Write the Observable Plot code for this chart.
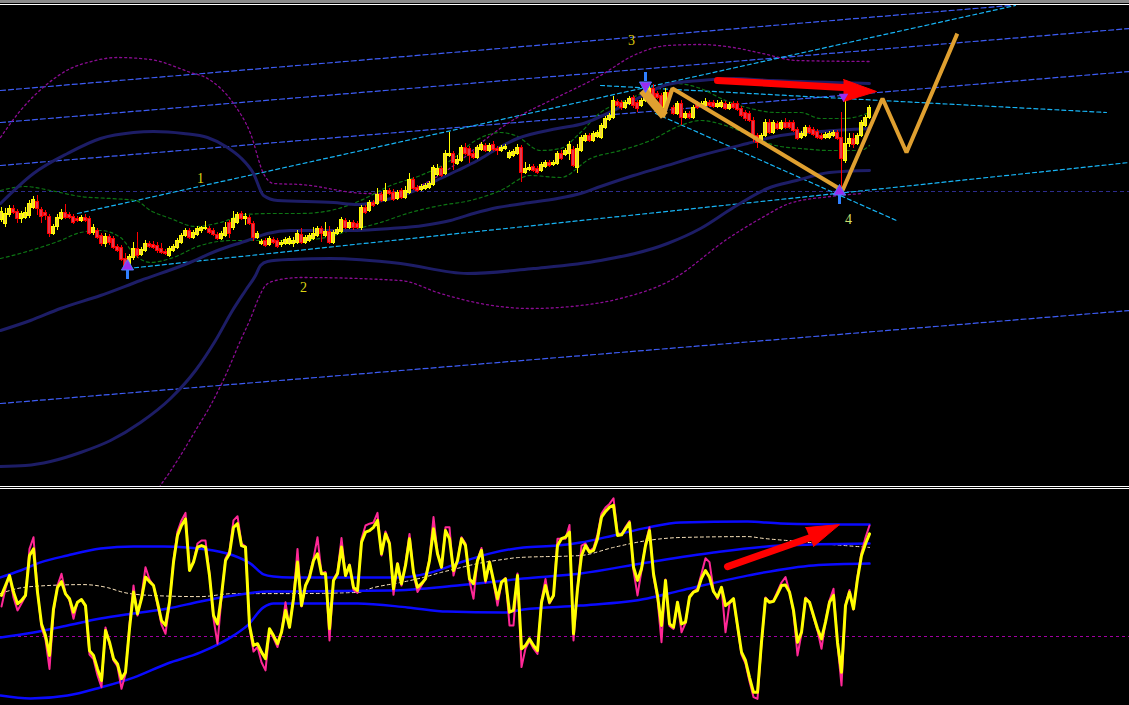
<!DOCTYPE html>
<html>
<head>
<meta charset="utf-8">
<script src="https://cdn.jsdelivr.net/npm/d3@7"></script>
<script src="https://cdn.jsdelivr.net/npm/@observablehq/plot@0.6"></script>
<style>
  html, body { margin: 0; padding: 0; background: #000; }
  #page { width: 1129px; height: 705px; overflow: hidden; background: #000; }
  #price, #osc { width: 1129px; overflow: hidden; }
  svg { display: block; }
</style>
</head>
<body>
<div id="page">
  <div style="height:3px;background:#8a8a8a"></div>
  <div style="height:1px"></div>
  <div style="height:1px;background:#fff"></div>
  <div id="price" style="height:481px"></div>
  <div style="height:1px;background:#fff"></div>
  <div style="height:1px"></div>
  <div style="height:1px;background:#fff"></div>
  <div style="height:1px"></div>
  <div id="osc" style="height:215px"></div>
</div>
<script>
// ---------- price bars (OHLC, one entry per bar) ----------
const open = [
  266,262,271,277,274,267,268,270,278,284,
  276,273,269,252,259,267,273,271,269,267,
  265,268,267,253,255,250,242,249,247,239,
  238,227,220,228,237,231,235,242,241,240,
  237,234,230,235,238,243,250,255,248,251,
  255,257,257,255,251,247,250,263,258,263,
  272,267,268,262,248,242,245,241,246,245,
  241,242,242,242,243,251,243,245,247,250,
  257,250,254,243,252,254,265,258,263,262,
  258,278,275,283,282,291,285,295,293,287,
  295,288,293,306,298,296,297,298,301,311,
  317,312,330,332,322,325,338,337,332,328,
  336,340,335,341,337,335,337,328,330,332,
  338,313,316,319,317,315,319,323,321,322,
  332,331,332,336,318,335,345,350,345,349,
  348,358,366,368,384,383,378,382,388,383,
  380,385,388,397,392,390,378,393,378,372,
  382,368,372,368,382,379,380,383,383,379,
  379,382,377,382,382,377,373,372,365,350,
  343,350,363,353,362,357,363,363,363,356,
  348,350,358,356,354,350,348,348,350,353,
  348,325,342,347,342,350,360,368
];
const high = [
  278,277,280,280,276,274,278,285,289,290,
  278,275,271,261,271,276,281,273,271,269,
  270,271,269,261,257,252,252,251,249,241,
  240,232,231,243,253,238,245,244,244,243,
  242,236,239,241,247,252,257,257,255,259,
  259,264,259,257,253,254,263,265,274,273,
  274,272,270,264,254,246,247,249,248,247,
  245,248,249,248,255,257,250,252,258,259,
  259,263,259,255,258,268,267,265,265,264,
  280,280,285,285,297,293,302,297,296,295,
  297,299,312,308,300,301,302,304,320,321,
  319,335,353,334,330,340,342,339,334,340,
  343,342,342,344,339,340,341,335,336,341,
  340,323,321,321,319,323,325,325,325,334,
  335,337,344,339,341,350,352,352,354,355,
  362,369,372,389,386,385,385,389,390,385,
  387,394,399,401,394,392,397,395,380,384,
  385,374,374,380,384,384,387,385,385,385,
  385,384,383,384,384,379,375,374,368,352,
  352,366,366,365,364,365,367,365,365,358,
  354,360,360,358,356,352,353,354,355,355,
  373,386,352,352,352,365,370,380
];
const low = [
  263,258,268,271,262,262,266,267,276,270,
  262,265,248,250,255,265,266,266,261,263,
  263,263,250,250,246,239,238,240,236,233,
  224,218,217,225,227,229,233,237,236,232,
  231,230,228,233,236,241,248,246,246,249,
  252,255,251,249,245,245,248,247,255,261,
  265,260,260,244,246,240,238,239,241,237,
  238,240,240,238,241,241,241,243,245,248,
  243,248,241,241,250,252,256,256,255,256,
  255,271,273,278,280,283,283,290,284,285,
  286,286,291,295,293,294,295,296,299,309,
  308,310,328,315,320,323,330,322,326,326,
  334,333,333,334,330,333,335,326,328,330,
  303,311,314,313,311,313,317,318,319,320,
  325,329,325,318,312,333,343,343,343,347,
  346,356,364,366,378,375,376,380,377,373,
  378,383,386,386,386,370,376,386,370,370,
  360,366,366,366,376,377,378,378,377,377,
  377,375,375,376,374,368,364,363,343,337,
  341,348,351,351,355,355,356,356,353,345,
  346,348,351,349,346,345,346,346,348,345,
  293,322,338,337,340,348,358,366
];
const close = [
  274,272,277,273,267,272,273,282,286,277,
  269,270,252,259,268,273,268,268,263,265,
  268,265,252,258,248,242,249,243,238,235,
  226,220,229,237,230,236,242,239,238,235,
  233,232,237,239,245,250,255,248,253,257,
  258,258,253,251,247,252,258,252,267,271,
  267,269,262,248,252,244,240,247,243,239,
  243,246,247,245,252,243,248,250,252,257,
  252,254,243,253,256,266,258,263,258,258,
  278,273,283,280,291,285,295,292,286,293,
  288,295,306,297,295,299,300,302,318,317,
  310,332,332,323,326,338,332,330,328,338,
  341,335,340,336,335,338,339,333,334,338,
  313,317,318,315,313,321,323,320,323,332,
  327,335,341,320,337,348,350,345,352,353,
  360,367,370,385,380,378,383,387,380,377,
  385,390,397,388,388,372,393,388,372,382,
  368,372,368,378,378,382,384,380,379,382,
  383,377,381,378,376,370,367,365,348,343,
  350,363,353,363,357,363,358,358,355,347,
  352,358,353,351,348,347,351,352,353,347,
  327,342,347,341,350,363,368,378
];

// ---------- envelope bands on the price pane: [bar, price] knots ----------
const slowUpper = [[-0.25,282],[8,312],[16.5,332],[24.75,347],[33,353],[38,354],[45.5,352],[51.5,348],[56.5,338],[59.75,328],[63,312],[65.5,290],[69,285],[83,283],[89,281],[93,283],[101.5,292],[109.75,307],[114,315],[119,325],[124,337],[129,347],[139,357],[145.5,362],[153,375],[158,385],[166.5,401],[174.75,405],[183,407],[192.75,405],[217,402]];
const slowMiddle = [[-0.25,155],[7.25,165],[14.75,177],[24.75,190],[34.75,205],[46.5,222],[54,235],[61.5,245],[66.5,252],[72.25,255],[89,255],[97.25,257],[105.5,260],[112.25,265],[118,272],[124,278],[130.5,282],[139,287],[144.75,292],[149.75,299],[158,310],[164.75,318],[174.75,330],[186.5,342],[194.75,350],[204.75,354],[217,357]];
const slowLower = [[-0.25,19],[6,20],[12.25,24],[19.75,33],[27.25,45],[34.75,63],[42.25,87],[48.5,115],[53.5,145],[57.75,175],[61,195],[63.5,210],[64.75,220],[66.5,224],[72.25,226],[82.25,227],[99.75,222],[116.5,212],[133,217],[149.75,225],[166.5,242],[174.75,257],[183,278],[191.5,297],[198.75,305],[207,313],[217,315]];
const wideUpper = [[-0.25,348],[4.75,375],[11,400],[17.25,417],[21.5,423],[29,428],[37.25,426],[47.25,413],[51.5,407],[58,382],[62.25,352],[65.5,312],[68,302],[74.75,301],[91.5,292],[99.75,293],[107.25,305],[114.75,325],[122.25,350],[129.75,370],[137.25,385],[149.75,410],[158,430],[166.5,440],[174.75,441],[183,438],[190.25,432],[198.75,425],[217,424]];
const wideLower = [[37.25,-20],[39.75,0],[41.5,10],[44.75,30],[48.5,55],[52.25,80],[56,110],[59.75,145],[62.25,167],[64.25,187],[66,200],[68.5,205],[74.75,208],[99.75,205],[109.75,192],[119.75,182],[132.25,177],[144.75,180],[154.75,187],[167.25,205],[182,248],[189.75,267],[197,282],[207.25,289],[215.25,292]];
const fastUpper = [[-0.25,295],[6,299],[12.25,295],[19.75,289],[27.25,287],[33.5,285],[37.25,275],[42.25,267],[48.5,259],[54.75,263],[61,271],[67.25,272],[74.75,272],[82.25,275],[89.75,285],[97.25,300],[104.75,310],[112.25,325],[118.5,345],[124.75,353],[128.5,350],[134.75,335],[139.75,337],[144.75,353],[149.75,373],[156,385],[162.25,395],[168.5,402],[174.75,397],[181,385],[187.25,377],[193.5,373],[199.75,373],[204.75,367],[211,367],[217,373]];
const fastLower = [[-0.25,227],[7.25,235],[14.75,245],[19.75,253],[24.75,255],[29.75,248],[33.5,230],[37.25,223],[42.25,227],[49.75,240],[57.25,245],[64.75,245],[72.25,245],[79.75,247],[87.25,255],[94.75,263],[102.25,273],[109.75,280],[117.25,285],[124.75,295],[132.25,310],[139.75,308],[147.25,327],[154.75,335],[162.25,345],[169.75,360],[174.75,365],[181,360],[187.25,350],[193.5,340],[199.75,337],[207.25,335],[214.75,335],[217,340]];

// ---------- channel / trend lines: [bar, price] end points ----------
const channel1 = [[-0.25,395],[252.25,480]];
const channel2 = [[-0.25,363],[282,457]];
const channel3 = [[-0.25,320],[282,414]];
const channel4 = [[-0.25,82],[282,175]];
const pivotLevel = 294;
const trend1 = [[19,272],[253.5,480]];
const trend2 = [[31.5,217],[282,323]];
const trend3 = [[149.75,400],[276.25,373]];
const trend4 = [[163.5,372],[223.75,265]];

// ---------- wave count ----------
const waveTop = [[161,392],[165,373]];
const waveBars = [165.5, 167.75, 210.25, 220.25, 226.25, 238.75];
const wavePrices = [370, 397, 295, 387, 333, 450];
const waveLabels = ["1", "2", "3", "4"];
const labelBars = [49.75, 75.5, 157.5, 211.75];
const labelPrices = [307, 198, 445, 266];
const labelColors = ["#dcd414", "#dcd414", "#dcc80a", "#d2e070"];
const pivotBars = [31.5, 161, 209.5];
const pivotPrices = [218, 401, 293];
const pivotDir = [1, -1, 1];
const spikeBars = [210.5];
const spikePrices = [389];
const priceArrowShaft = [[179,405],[210.5,398]];
const priceArrowHead = [[210.5,406],[218.75,394],[210.5,384]];

// ---------- oscillator pane ----------
const oscMain = [
  63.7,67,70.3,64.8,60.9,62,63.7,77,79.2,64.8,
  54.2,50.3,43.7,59.2,66.4,68.3,64.2,62.6,58.1,61.4,
  62.3,60.3,45.3,43.7,39.2,35.3,52,48.1,42.6,40.9,
  35.9,38.1,52.6,64.8,57.6,62.6,69.8,68.3,67,61.4,
  55.3,53.7,61.4,74.8,83.7,87,89.2,72,74.8,79.8,
  80.3,79.8,70.3,57,54.2,63.7,75.3,77.6,86.4,87.6,
  80.3,79.8,53.7,47,47.6,44.8,42.6,52.6,50.3,47.6,
  51.4,58.7,53.1,62.6,74.8,60.3,67,69.8,75.3,77.6,
  70.9,70.9,52.6,68.7,70.9,79.8,70.3,73.7,66.4,65.3,
  81.4,84.8,85.3,86.4,88.7,77.6,84.2,80.9,65.9,74.2,
  67.6,73.7,82.6,71.4,66.4,67.6,69.2,75.3,85.9,77.6,
  73.1,85.3,82.6,72,75.3,82.6,80.3,69.2,67.6,75.3,
  78.7,68.7,74.8,68.7,62.6,68.1,69.2,58.1,58.7,70.3,
  45.9,47,49.2,47,45.3,61.4,67,61.4,63.7,80.3,
  82.6,83.1,84.8,50.9,65.9,77,80.3,78.1,78.7,82.6,
  89.8,91.7,93.1,93.7,83.7,83.9,85.9,87.9,73.1,68.7,
  72.6,80.3,85.3,70.9,63.7,53.7,68.7,54.2,53.1,61.4,
  54.2,54.8,63.1,64.8,65.3,69.4,72,69.8,65,63.1,
  66.4,60.3,61.4,62.6,53.7,44.8,42,36.4,31.4,31.4,
  48.1,62.6,61.4,61.7,64.2,67,67.2,64.8,58.7,48.1,
  51.4,62.6,61.4,57,52.6,49.2,54.8,61.4,63.7,48.1,
  38.1,60.3,64.8,59.2,69.2,77,80.9,84.2
];
const oscSignal = [
  60,66,70.5,63,58.7,61,63.5,79.2,83.1,65,
  53,49,39.2,58,67,70.9,64.5,62,55.9,61.5,
  62.3,60,44,42.5,37,33.1,53,47.5,42,40,
  32.6,37.5,54,67,57,63.5,73.1,69,67,60.5,
  54,50.9,61,75.5,85,88.7,91.2,72.5,75,81,
  82,82,71,56,47.6,63,76,78.5,88.7,90.1,
  81,80,53,45,46.5,41.4,38.7,52,49.5,46.5,
  51.5,61.4,53,63,79.2,60,67,70.5,76,83.1,
  71,71.5,48.7,69,71.5,82.8,70.5,74,65.5,64.5,
  82.5,87,87.6,88,91.2,77,85,81.5,63.9,74.5,
  67,74.5,84.2,71,64.8,67,69.5,76,89.8,78,
  73,86.4,86.4,70.3,75.5,83.1,81,68.5,62.6,75.5,
  79.5,68,75,68,60.3,68,69.5,53.7,53.7,71,
  39.8,46,48.5,46,44.2,62,69.2,61,63.5,82.6,
  82.6,82.6,87.2,48.7,66,80.3,81,78.5,79.5,84,
  91,93,94.2,96.1,84.5,84,86.5,88.5,72,63.7,
  72,81,86.4,70,62.5,48.1,69,53.5,52.5,61.5,
  51.4,54.5,63.5,65,66,71,76.1,74.8,65.5,62.5,
  66.5,51.4,61,62.5,53,44,41,35,29.8,29.2,
  47.5,63,61.5,62,65,68,69.8,65,58,43.7,
  51,63,61.5,56.5,52,45.9,55,62,65.9,47.5,
  33.7,60.5,65.5,59,70,78,83,87
];
const oscUpper = [[-0.25,69.7],[4.75,72],[9.75,74.7],[16.5,77],[24.75,79.3],[33,80],[40.5,80],[46.5,79.7],[53,78.7],[58,77],[62.25,74.3],[65.5,70.7],[68,70],[72.25,69.7],[99.75,69.7],[107.25,71.3],[114.75,74.7],[122.25,77.7],[130.5,79.7],[139,80.3],[144.75,81.3],[153,83.7],[161.5,86.3],[169.75,88],[186.5,88.3],[194.75,87.7],[217,87.3]];
const oscMiddle = [[-0.25,49.7],[8,51.3],[16.5,53.7],[24.75,56],[33,57.7],[41.5,59.3],[49.75,61.7],[58,63.7],[66.5,65],[72.25,65],[97.25,65.3],[114,67],[130.5,69.3],[144.75,71],[161.5,74.7],[178,78],[194.75,80.3],[217,81]];
const oscLower = [[-0.25,30.3],[7.25,29.3],[16.5,30.3],[24.75,33],[33,36.3],[41.5,41],[49.75,44.7],[58,50.3],[61.5,53.7],[65.5,59.7],[68,61],[72.25,61],[89,61],[101.5,59.7],[111.5,58.3],[125.5,58],[130.5,59],[144.75,60.3],[161.5,62.7],[169.75,65.3],[186.5,70.3],[203,73.7],[217,74.3]];
const oscBasis = [[-0.25,64.3],[4,66],[8,66.7],[20.5,67.3],[26.5,66.3],[30.5,64.7],[37.25,63.7],[49.75,63.3],[58,64.3],[72.25,64.3],[89,64.7],[93,66.3],[99.75,68],[105.5,69.7],[109.75,71.3],[114,72.7],[119,74.3],[125.5,75.7],[129,76.3],[144.75,77],[153,79.7],[161.5,82],[169.75,83],[186.5,83.3],[190.5,82.7],[199,81.7],[207.25,80.7],[217,79.7]];
const oscLevel = 50;
const oscArrowShaft = [[181.5,73.3],[202.25,83]];
const oscArrowHead = [[201,86.3],[209.5,87.3],[203,80]];

// ---------- drawing ----------
const bars = d3.range(close.length);
const candles = bars.map(i => ({i, o: open[i], h: high[i], l: low[i], c: close[i]}));
const rising = d => d.c >= d.o;
const falling = d => d.c < d.o;
const pivots = pivotBars.map((b, k) => ({bar: b, price: pivotPrices[k], dir: pivotDir[k]}));
const spikes = spikeBars.map((b, k) => ({bar: b, price: spikePrices[k]}));
const labels = waveLabels.map((t, k) => ({t, bar: labelBars[k], price: labelPrices[k], color: labelColors[k]}));
const wave = waveBars.map((b, k) => [b, wavePrices[k]]);

const path = (pts, o) => Plot.line(pts, {x: d => d[0], y: d => d[1], ...o});
const xScale = {domain: [-0.25, 282], axis: null};
const crisp = {shapeRendering: "crispEdges"};

const dashBlue = {stroke: "#3d5cf5", strokeWidth: 1.2, strokeDasharray: "5,3"};
const dashCyan = {stroke: "#17b4f5", strokeWidth: 1.2, strokeDasharray: "4,3"};
const dashPurple = {stroke: "#8a0c92", strokeWidth: 1.3, strokeDasharray: "2,3", curve: "monotone-x"};
const dashGreen = {stroke: "#0d7414", strokeWidth: 1.2, strokeDasharray: "3,3", curve: "monotone-x"};
const navy = {stroke: "#1d1d66", strokeWidth: 3, curve: "monotone-x"};

const pricePane = Plot.plot({
  width: 1129, height: 481, margin: 0,
  x: xScale,
  y: {domain: [-1, 480], axis: null},
  color: {type: "identity"},
  style: {background: "#000"},
  marks: [
    path(channel1, dashBlue), path(channel2, dashBlue), path(channel3, dashBlue), path(channel4, dashBlue),
    Plot.ruleY([pivotLevel], {stroke: "#2c2c8c", strokeWidth: 1.2, strokeDasharray: "4,3"}),
    path(trend1, dashCyan), path(trend2, dashCyan), path(trend3, dashCyan), path(trend4, dashCyan),
    path(wideUpper, dashPurple), path(wideLower, dashPurple),
    path(fastUpper, dashGreen), path(fastLower, dashGreen),
    path(slowUpper, navy), path(slowMiddle, navy), path(slowLower, navy),
    Plot.ruleX(candles, {filter: rising, x: "i", y1: "l", y2: "h", stroke: "#ffff00", strokeWidth: 1, ...crisp}),
    Plot.ruleX(candles, {filter: falling, x: "i", y1: "l", y2: "h", stroke: "#ff0000", strokeWidth: 1, ...crisp}),
    Plot.rect(candles, {filter: rising, x1: d => d.i - 0.34, x2: d => d.i + 0.34, y1: "o", y2: "c", fill: "#f2d83c", stroke: "#ffff00", strokeWidth: 1, ...crisp}),
    Plot.rect(candles, {filter: falling, x1: d => d.i - 0.34, x2: d => d.i + 0.34, y1: "o", y2: "c", fill: "#e23a50", stroke: "#ff0000", strokeWidth: 1, ...crisp}),
    path(waveTop, {stroke: "#e0a030", strokeWidth: 9, strokeLinecap: "square"}),
    path(wave, {stroke: "#e0a030", strokeWidth: 4, strokeLinejoin: "miter", strokeLinecap: "square"}),
    Plot.ruleX(pivots, {x: "bar", y1: d => d.price - d.dir * 3, y2: d => d.price - d.dir * 12, stroke: "#2f80ff", strokeWidth: 3}),
    Plot.dot(pivots, {x: "bar", y: d => d.price + d.dir * 1, symbol: "triangle", rotate: d => d.dir > 0 ? 0 : 180, r: 4.5, fill: "#9a2cf0", stroke: "#4a7cff", strokeWidth: 1}),
    path(priceArrowShaft, {stroke: "#ff0000", strokeWidth: 7, strokeLinecap: "round"}),
    path(priceArrowHead, {fill: "#ff0000", stroke: "#ff0000", strokeWidth: 1}),
    Plot.dot(spikes, {x: "bar", y: "price", symbol: "triangle", rotate: 180, r: 3.5, fill: "#9a2cf0"}),
    Plot.text(labels, {x: "bar", y: "price", text: "t", fill: "color", fontSize: 14, fontFamily: "Liberation Serif, DejaVu Serif, serif"})
  ]
});
document.getElementById("price").append(pricePane);

const blueBand = {stroke: "#0a0aff", strokeWidth: 2.5, curve: "monotone-x"};
const oscPane = Plot.plot({
  width: 1129, height: 215, margin: 0,
  x: xScale,
  y: {domain: [27, 98.67], axis: null},
  style: {background: "#000"},
  marks: [
    Plot.ruleY([oscLevel], {stroke: "#a000a0", strokeWidth: 1, strokeDasharray: "3,3"}),
    path(oscBasis, {stroke: "#ffe8c0", strokeWidth: 1, strokeDasharray: "3,3", curve: "monotone-x"}),
    path(oscUpper, blueBand), path(oscMiddle, blueBand), path(oscLower, blueBand),
    Plot.line(bars, {x: i => i, y: i => oscSignal[i], stroke: "#ff2896", strokeWidth: 2}),
    Plot.line(bars, {x: i => i, y: i => oscMain[i], stroke: "#ffff00", strokeWidth: 3}),
    path(oscArrowShaft, {stroke: "#ff0000", strokeWidth: 7, strokeLinecap: "round"}),
    path(oscArrowHead, {fill: "#ff0000", stroke: "#ff0000", strokeWidth: 1})
  ]
});
document.getElementById("osc").append(oscPane);
</script>
</body>
</html>
